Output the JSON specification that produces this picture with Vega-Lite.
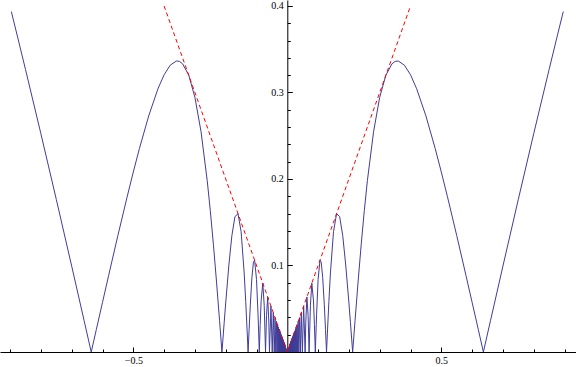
{
  "$schema": "https://vega.github.io/schema/vega-lite/v6.json",
  "width": 576,
  "height": 352,
  "autosize": {"type": "none"},
  "padding": {"left": 0, "top": 0, "right": 0, "bottom": 15},
  "config": {
    "view": {"stroke": null},
    "axis": {"grid": false, "domainColor": "#000000", "tickColor": "#000000", "labelColor": "#000000", "labelFont": "Liberation Serif", "labelFontSize": 10, "domainWidth": 1, "tickWidth": 1, "title": null}
  },
  "datasets": {
    "curve": [
      {"x": 0.896, "y": 0.3935}, {"x": 0.875, "y": 0.3631}, {"x": 0.85, "y": 0.3266}, {"x": 0.8, "y": 0.2523}, {"x": 0.75, "y": 0.1764}, {"x": 0.7, "y": 0.0992}, {"x": 0.66, "y": 0.0367}, {"x": 0.63662, "y": 0},
      {"x": 0.62, "y": 0.0261}, {"x": 0.6, "y": 0.0574}, {"x": 0.58, "y": 0.0886}, {"x": 0.55, "y": 0.1347}, {"x": 0.52, "y": 0.1794}, {"x": 0.5, "y": 0.2081}, {"x": 0.48, "y": 0.2354}, {"x": 0.45, "y": 0.2729}, {"x": 0.42, "y": 0.3043}, {"x": 0.4, "y": 0.3205}, {"x": 0.38, "y": 0.3316}, {"x": 0.36, "y": 0.3364}, {"x": 0.35, "y": 0.3359}, {"x": 0.34, "y": 0.3332}, {"x": 0.32, "y": 0.32}, {"x": 0.3, "y": 0.2945}, {"x": 0.28, "y": 0.2545}, {"x": 0.26, "y": 0.1981}, {"x": 0.25, "y": 0.1634}, {"x": 0.24, "y": 0.1246}, {"x": 0.23, "y": 0.082}, {"x": 0.22, "y": 0.0366}, {"x": 0.21221, "y": 0},
      {"x": 0.205, "y": 0.0338}, {"x": 0.2, "y": 0.0567}, {"x": 0.19, "y": 0.0994}, {"x": 0.18, "y": 0.1344}, {"x": 0.17, "y": 0.1565}, {"x": 0.16, "y": 0.1599}, {"x": 0.15, "y": 0.1391}, {"x": 0.14, "y": 0.0914}, {"x": 0.135, "y": 0.0583}, {"x": 0.13, "y": 0.0209}, {"x": 0.12732, "y": 0},
      {"x": 0.124, "y": 0.0259}, {"x": 0.12, "y": 0.0553}, {"x": 0.115, "y": 0.0858}, {"x": 0.11, "y": 0.1039}, {"x": 0.1061, "y": 0.1061}, {"x": 0.1, "y": 0.0839}, {"x": 0.095, "y": 0.043}, {"x": 0.09095, "y": 0},
      {"x": 0.088, "y": 0.0317}, {"x": 0.085, "y": 0.0591}, {"x": 0.07958, "y": 0.0796}, {"x": 0.075, "y": 0.054}, {"x": 0.07074, "y": 0},
      {"x": 0.0675, "y": 0.0423}, {"x": 0.06366, "y": 0.0637}, {"x": 0.06, "y": 0.0345}, {"x": 0.05787, "y": 0},
      {"x": 0.05305, "y": 0.05305}, {"x": 0.04897, "y": 0}, {"x": 0.04547, "y": 0.04547}, {"x": 0.04244, "y": 0}, {"x": 0.03979, "y": 0.03979}, {"x": 0.03745, "y": 0}, {"x": 0.03537, "y": 0.03537}, {"x": 0.03351, "y": 0}, {"x": 0.03183, "y": 0.03183}, {"x": 0.03032, "y": 0}, {"x": 0.02894, "y": 0.02894}, {"x": 0.02768, "y": 0}, {"x": 0.02653, "y": 0.02653}, {"x": 0.02546, "y": 0}, {"x": 0.02449, "y": 0.02449}, {"x": 0.02358, "y": 0}, {"x": 0.02274, "y": 0.02274}, {"x": 0.02195, "y": 0}, {"x": 0.02122, "y": 0.02122}, {"x": 0.02054, "y": 0}, {"x": 0.01989, "y": 0.01989}, {"x": 0.01929, "y": 0}, {"x": 0.01872, "y": 0.01872}, {"x": 0.01819, "y": 0}, {"x": 0.01768, "y": 0.01768}, {"x": 0.01721, "y": 0}, {"x": 0.01675, "y": 0.01675}, {"x": 0.01632, "y": 0}, {"x": 0.01592, "y": 0.01592}, {"x": 0.01553, "y": 0}, {"x": 0.01516, "y": 0.01516}, {"x": 0.01481, "y": 0}, {"x": 0.01447, "y": 0.01447}, {"x": 0.01415, "y": 0}, {"x": 0.01384, "y": 0.01384}, {"x": 0.01355, "y": 0}, {"x": 0.01326, "y": 0.01326}, {"x": 0.01299, "y": 0}, {"x": 0.01273, "y": 0.01273}, {"x": 0.01248, "y": 0}, {"x": 0.01224, "y": 0.01224}, {"x": 0.01201, "y": 0}, {"x": 0.01179, "y": 0.01179}, {"x": 0.01158, "y": 0}, {"x": 0.01137, "y": 0.01137}, {"x": 0.01117, "y": 0}, {"x": 0.01098, "y": 0.01098}, {"x": 0.01079, "y": 0}, {"x": 0.01061, "y": 0.01061}, {"x": 0.01044, "y": 0}, {"x": 0.01027, "y": 0.01027}, {"x": 0.01011, "y": 0}, {"x": 0.00995, "y": 0.00995}, {"x": 0.00979, "y": 0}, {"x": 0.00965, "y": 0.00965}, {"x": 0.0095, "y": 0}, {"x": 0.00936, "y": 0.00936}, {"x": 0.00923, "y": 0}, {"x": 0.0091, "y": 0.0091}, {"x": 0.00897, "y": 0}, {"x": 0.00884, "y": 0.00884}, {"x": 0.00872, "y": 0}, {"x": 0.0086, "y": 0.0086}, {"x": 0.00849, "y": 0}, {"x": 0.00838, "y": 0.00838}, {"x": 0.00827, "y": 0}, {"x": 0.00816, "y": 0.00816}, {"x": 0.00806, "y": 0}, {"x": 0.00796, "y": 0.00796}, {"x": 0.00786, "y": 0}, {"x": 0.00707, "y": 0.00707}, {"x": 0.007, "y": 0}, {"x": 0.00637, "y": 0.00637}, {"x": 0.0063, "y": 0}, {"x": 0.00531, "y": 0.00531}, {"x": 0.00526, "y": 0}, {"x": 0.00424, "y": 0.00424}, {"x": 0.00422, "y": 0}, {"x": 0.00318, "y": 0.00318}, {"x": 0.00317, "y": 0}, {"x": 0.00212, "y": 0.00212}, {"x": 0.00211, "y": 0}, {"x": 0.001061, "y": 0.001061}, {"x": 0.001059, "y": 0},
      {"x": 0, "y": 0},
      {"x": -0.001059, "y": 0}, {"x": -0.001061, "y": 0.001061}, {"x": -0.00211, "y": 0}, {"x": -0.00212, "y": 0.00212}, {"x": -0.00317, "y": 0}, {"x": -0.00318, "y": 0.00318}, {"x": -0.00422, "y": 0}, {"x": -0.00424, "y": 0.00424}, {"x": -0.00526, "y": 0}, {"x": -0.00531, "y": 0.00531}, {"x": -0.0063, "y": 0}, {"x": -0.00637, "y": 0.00637}, {"x": -0.007, "y": 0}, {"x": -0.00707, "y": 0.00707}, {"x": -0.00786, "y": 0}, {"x": -0.00796, "y": 0.00796}, {"x": -0.00806, "y": 0}, {"x": -0.00816, "y": 0.00816}, {"x": -0.00827, "y": 0}, {"x": -0.00838, "y": 0.00838}, {"x": -0.00849, "y": 0}, {"x": -0.0086, "y": 0.0086}, {"x": -0.00872, "y": 0}, {"x": -0.00884, "y": 0.00884}, {"x": -0.00897, "y": 0}, {"x": -0.0091, "y": 0.0091}, {"x": -0.00923, "y": 0}, {"x": -0.00936, "y": 0.00936}, {"x": -0.0095, "y": 0}, {"x": -0.00965, "y": 0.00965}, {"x": -0.00979, "y": 0}, {"x": -0.00995, "y": 0.00995}, {"x": -0.01011, "y": 0}, {"x": -0.01027, "y": 0.01027}, {"x": -0.01044, "y": 0}, {"x": -0.01061, "y": 0.01061}, {"x": -0.01079, "y": 0}, {"x": -0.01098, "y": 0.01098}, {"x": -0.01117, "y": 0}, {"x": -0.01137, "y": 0.01137}, {"x": -0.01158, "y": 0}, {"x": -0.01179, "y": 0.01179}, {"x": -0.01201, "y": 0}, {"x": -0.01224, "y": 0.01224}, {"x": -0.01248, "y": 0}, {"x": -0.01273, "y": 0.01273}, {"x": -0.01299, "y": 0}, {"x": -0.01326, "y": 0.01326}, {"x": -0.01355, "y": 0}, {"x": -0.01384, "y": 0.01384}, {"x": -0.01415, "y": 0}, {"x": -0.01447, "y": 0.01447}, {"x": -0.01481, "y": 0}, {"x": -0.01516, "y": 0.01516}, {"x": -0.01553, "y": 0}, {"x": -0.01592, "y": 0.01592}, {"x": -0.01632, "y": 0}, {"x": -0.01675, "y": 0.01675}, {"x": -0.01721, "y": 0}, {"x": -0.01768, "y": 0.01768}, {"x": -0.01819, "y": 0}, {"x": -0.01872, "y": 0.01872}, {"x": -0.01929, "y": 0}, {"x": -0.01989, "y": 0.01989}, {"x": -0.02054, "y": 0}, {"x": -0.02122, "y": 0.02122}, {"x": -0.02195, "y": 0}, {"x": -0.02274, "y": 0.02274}, {"x": -0.02358, "y": 0}, {"x": -0.02449, "y": 0.02449}, {"x": -0.02546, "y": 0}, {"x": -0.02653, "y": 0.02653}, {"x": -0.02768, "y": 0}, {"x": -0.02894, "y": 0.02894}, {"x": -0.03032, "y": 0}, {"x": -0.03183, "y": 0.03183}, {"x": -0.03351, "y": 0}, {"x": -0.03537, "y": 0.03537}, {"x": -0.03745, "y": 0}, {"x": -0.03979, "y": 0.03979}, {"x": -0.04244, "y": 0}, {"x": -0.04547, "y": 0.04547}, {"x": -0.04897, "y": 0}, {"x": -0.05305, "y": 0.05305},
      {"x": -0.05787, "y": 0}, {"x": -0.06, "y": 0.0345}, {"x": -0.06366, "y": 0.0637}, {"x": -0.0675, "y": 0.0423},
      {"x": -0.07074, "y": 0}, {"x": -0.075, "y": 0.054}, {"x": -0.07958, "y": 0.0796}, {"x": -0.085, "y": 0.0591}, {"x": -0.088, "y": 0.0317},
      {"x": -0.09095, "y": 0}, {"x": -0.095, "y": 0.043}, {"x": -0.1, "y": 0.0839}, {"x": -0.1061, "y": 0.1061}, {"x": -0.11, "y": 0.1039}, {"x": -0.115, "y": 0.0858}, {"x": -0.12, "y": 0.0553}, {"x": -0.124, "y": 0.0259},
      {"x": -0.12732, "y": 0}, {"x": -0.13, "y": 0.0209}, {"x": -0.135, "y": 0.0583}, {"x": -0.14, "y": 0.0914}, {"x": -0.15, "y": 0.1391}, {"x": -0.16, "y": 0.1599}, {"x": -0.17, "y": 0.1565}, {"x": -0.18, "y": 0.1344}, {"x": -0.19, "y": 0.0994}, {"x": -0.2, "y": 0.0567}, {"x": -0.205, "y": 0.0338},
      {"x": -0.21221, "y": 0}, {"x": -0.22, "y": 0.0366}, {"x": -0.23, "y": 0.082}, {"x": -0.24, "y": 0.1246}, {"x": -0.25, "y": 0.1634}, {"x": -0.26, "y": 0.1981}, {"x": -0.28, "y": 0.2545}, {"x": -0.3, "y": 0.2945}, {"x": -0.32, "y": 0.32}, {"x": -0.34, "y": 0.3332}, {"x": -0.35, "y": 0.3359}, {"x": -0.36, "y": 0.3364}, {"x": -0.38, "y": 0.3316}, {"x": -0.4, "y": 0.3205}, {"x": -0.42, "y": 0.3043}, {"x": -0.45, "y": 0.2729}, {"x": -0.48, "y": 0.2354}, {"x": -0.5, "y": 0.2081}, {"x": -0.52, "y": 0.1794}, {"x": -0.55, "y": 0.1347}, {"x": -0.58, "y": 0.0886}, {"x": -0.6, "y": 0.0574}, {"x": -0.62, "y": 0.0261},
      {"x": -0.63662, "y": 0}, {"x": -0.66, "y": 0.0367}, {"x": -0.7, "y": 0.0992}, {"x": -0.75, "y": 0.1764}, {"x": -0.8, "y": 0.2523}, {"x": -0.85, "y": 0.3266}, {"x": -0.875, "y": 0.3631}, {"x": -0.896, "y": 0.3935}
    ],
    "bound": [
      {"x": -0.4, "y": 0.4}, {"x": 0, "y": 0}, {"x": 0.4, "y": 0.4}
    ]
  },
  "layer": [
    {
      "data": {"name": "curve"},
      "mark": {"type": "line", "color": "#3f3d99", "strokeWidth": 1, "clip": true},
      "encoding": {
        "x": {"field": "x", "type": "quantitative", "scale": {"domain": [-0.9328, 0.9373], "nice": false, "zero": false},
              "axis": {"orient": "bottom", "values": [-0.5, 0.5], "ticks": false, "domain": true, "labelPadding": 3, "labelFlush": false, "format": ".1f", "labelColor": "#000000"}},
        "y": {"field": "y", "type": "quantitative", "scale": {"domain": [0, 0.4069], "nice": false, "zero": false},
              "axis": {"orient": "left", "offset": -287.3, "values": [0.1, 0.2, 0.3, 0.4], "ticks": false, "domain": true, "labelPadding": 4, "labelFlush": false, "format": ".1f", "labelColor": "#000000"}}
      }
    },
    {
      "data": {"name": "bound"},
      "mark": {"type": "line", "color": "#ff0000", "strokeWidth": 1, "strokeDash": [4, 3]},
      "encoding": {
        "x": {"field": "x", "type": "quantitative", "scale": {"domain": [-0.9328, 0.9373], "nice": false, "zero": false},
              "axis": {"orient": "bottom", "values": [-0.5, 0.5], "labels": false, "domain": false, "tickSize": -5}},
        "y": {"field": "y", "type": "quantitative", "scale": {"domain": [0, 0.4069], "nice": false, "zero": false},
              "axis": {"orient": "left", "offset": -287.3, "values": [0.1, 0.2, 0.3, 0.4], "labels": false, "domain": false, "tickSize": -5}}
      }
    },
    {
      "data": {"name": "bound"},
      "mark": {"type": "line", "strokeOpacity": 0},
      "encoding": {
        "x": {"field": "x", "type": "quantitative", "scale": {"domain": [-0.9328, 0.9373], "nice": false, "zero": false},
              "axis": {"orient": "bottom", "values": [-0.9, -0.8, -0.7, -0.6, -0.4, -0.3, -0.2, -0.1, 0.1, 0.2, 0.3, 0.4, 0.6, 0.7, 0.8, 0.9], "labels": false, "domain": false, "tickSize": -3}},
        "y": {"field": "y", "type": "quantitative", "scale": {"domain": [0, 0.4069], "nice": false, "zero": false},
              "axis": {"orient": "left", "offset": -287.3, "values": [0.02, 0.04, 0.06, 0.08, 0.12, 0.14, 0.16, 0.18, 0.22, 0.24, 0.26, 0.28, 0.32, 0.34, 0.36, 0.38], "labels": false, "domain": false, "tickSize": -3}}
      }
    }
  ],
  "resolve": {"axis": {"x": "independent", "y": "independent"}}
}
